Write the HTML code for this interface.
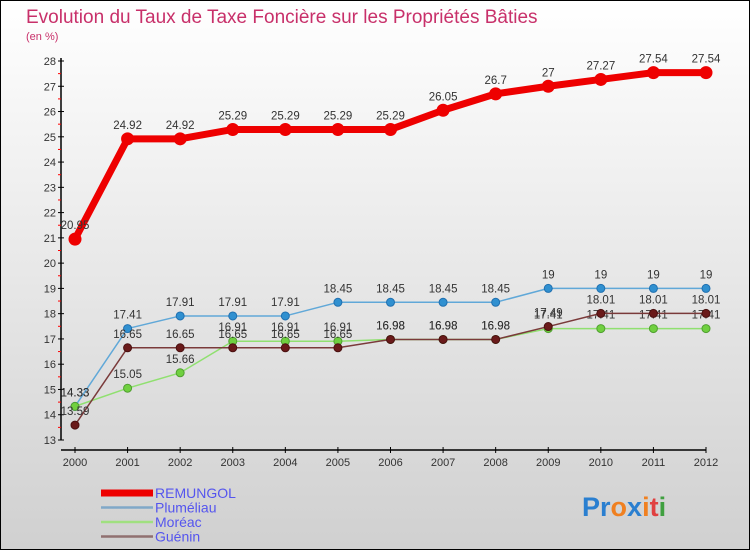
<!DOCTYPE html>
<html><head><meta charset="utf-8"><style>
body{margin:0;width:750px;height:550px;overflow:hidden;font-family:"Liberation Sans",sans-serif}
</style></head><body>
<svg width="750" height="550" viewBox="0 0 750 550">
<defs><linearGradient id="bg" x1="0" y1="0" x2="0" y2="1"><stop offset="0" stop-color="#ffffff"/><stop offset="1" stop-color="#d0d0d0"/></linearGradient></defs>
<rect x="0.5" y="0.5" width="749" height="549" fill="url(#bg)" stroke="#000"/>
<text x="26" y="23" font-size="19" fill="#c8306a">Evolution du Taux de Taxe Foncière sur les Propriétés Bâties</text>
<text x="26" y="40" font-size="11" fill="#c8306a">(en %)</text>
<g id="axes"></g>
<g id="series"></g>
<g id="legend"></g>
<text x="582" y="516" font-size="27" font-weight="bold"><tspan fill="#2a7fd0">Pr</tspan><tspan fill="#f08020">o</tspan><tspan fill="#2a7fd0">x</tspan><tspan fill="#f08020">i</tspan><tspan fill="#e04040">t</tspan><tspan fill="#40a040">i</tspan></text>
</svg>
<script>
const years=[2000,2001,2002,2003,2004,2005,2006,2007,2008,2009,2010,2011,2012];
const yTicks=[13,14,15,16,17,18,19,20,21,22,23,24,25,26,27,28];
const remungol=[20.95,24.92,24.92,25.29,25.29,25.29,25.29,26.05,26.7,27,27.27,27.54,27.54];
const plumeliau=[14.33,17.41,17.91,17.91,17.91,18.45,18.45,18.45,18.45,19,19,19,19];
const moreac=[14.33,15.05,15.66,16.91,16.91,16.91,16.98,16.98,16.98,17.41,17.41,17.41,17.41];
const guenin=[13.59,16.65,16.65,16.65,16.65,16.65,16.98,16.98,16.98,17.49,18.01,18.01,18.01];
const NS='http://www.w3.org/2000/svg';
function X(i){return 75+i*(706-75)/(years.length-1);}
function Y(v){return 440-(v-13)*(440-61)/15;}
function mk(t,a,p){const e=document.createElementNS(NS,t);for(const k in a)e.setAttribute(k,a[k]);p.appendChild(e);return e;}
const ax=document.getElementById('axes');
let e=mk('line',{x1:61,y1:58,x2:61,y2:440,stroke:'#000','stroke-width':1.5},ax);


e=mk('line',{x1:61,y1:450,x2:706,y2:450,stroke:'#000','stroke-width':1.5},ax);


yTicks.forEach(v=>{
 mk('line',{x1:58,y1:Y(v),x2:64,y2:Y(v),stroke:'#000'},ax);
 if(v<28)mk('line',{x1:58,y1:Y(v+0.5),x2:61,y2:Y(v+0.5),stroke:'#f00'},ax);
 const t=mk('text',{x:56,y:Y(v)+4,'font-size':11,fill:'#333','text-anchor':'end'},ax);t.textContent=v;
 
 
});
years.forEach((y,i)=>{
 mk('line',{x1:X(i),y1:447,x2:X(i),y2:453,stroke:'#000'},ax);
 const t=mk('text',{x:X(i),y:466,'font-size':11,fill:'#333','text-anchor':'middle'},ax);t.textContent=y;
 
 
});
const sg=document.getElementById('series');
function draw(name,vals,col,w,r,dot,dotStroke){
 const g=mk('g',{},sg);
 
 
 mk('polyline',{points:vals.map((v,i)=>X(i)+','+Y(v)).join(' '),fill:'none',stroke:col,'stroke-width':w,'stroke-linejoin':'round'},g);
 vals.forEach((v,i)=>{
  const c=mk('circle',{cx:X(i),cy:Y(v),r:r,fill:dot,stroke:dotStroke,'stroke-width':1},g);
  
  
  const t=mk('text',{x:X(i),y:Y(v)-10,'font-size':11.5,fill:'#333','text-anchor':'middle'},g);t.textContent=v;
  
  
 });
}
draw('plumeliau',plumeliau,'#60a8d8',1.5,4,'#3090d0','#2070b0');
draw('moreac',moreac,'#90e070',1.5,4,'#70d040','#50a030');
draw('guenin',guenin,'#7a3a3a',1.5,4,'#6a1a1a','#4a1010');
draw('remungol',remungol,'#ee0000',7,6,'#ee0000','#ee0000');
const lg=document.getElementById('legend');
[['REMUNGOL','#ee0000',7],['Pluméliau','#80a8c8',2.5],['Moréac','#a0e080',2.5],['Guénin','#907070',2.5]].forEach((d,i)=>{
 const y=493+i*14.5;
 const l=mk('line',{x1:101,y1:y,x2:153,y2:y,stroke:d[1],'stroke-width':d[2]},lg);
 
 
 const t=mk('text',{x:155,y:y+5,'font-size':14,fill:'#5555ee'},lg);t.textContent=d[0];
 
 
});
</script>
</body></html>
